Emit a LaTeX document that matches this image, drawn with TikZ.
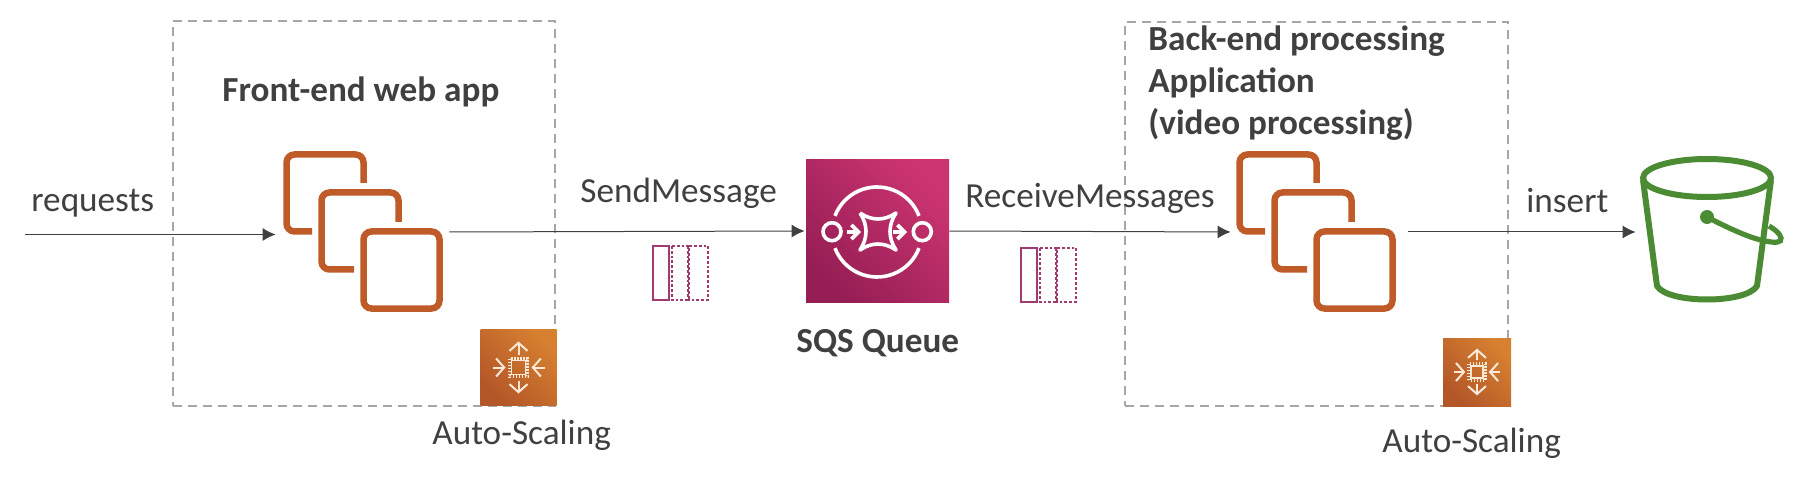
\documentclass[tikz,border=0pt]{standalone}
\usepackage{fontspec}
\setmainfont{Carlito}
\usetikzlibrary{arrows.meta}
\definecolor{txtgray}{HTML}{404040}
\definecolor{boxgray}{HTML}{A6A6A6}
\definecolor{ec2orange}{HTML}{BE5B28}
\definecolor{asgdark}{HTML}{B35628}
\definecolor{asglight}{HTML}{D68030}
\definecolor{sqsdark}{HTML}{951E54}
\definecolor{sqslight}{HTML}{CC3470}
\definecolor{msgpink}{HTML}{A23A72}
\definecolor{s3green}{HTML}{4B8B33}
\definecolor{asgline}{HTML}{FBE9D8}
\tikzset{
	label/.style={anchor=base west,inner sep=0pt,text=txtgray,font=\fontsize{17.6}{21}\selectfont},
	title/.style={anchor=base west,inner sep=0pt,text=txtgray,align=left,font=\fontsize{17.6}{21.2}\selectfont\bfseries},
	group/.style={draw=boxgray,line width=1pt,dash pattern=on 4.5pt off 3pt,minimum height=192.25pt,inner sep=0pt},
	flow/.style={txtgray,line width=.5pt,-{Latex[length=6.5pt,width=6.5pt]}},
	slot/.style={draw=none,inner sep=0pt,minimum size=80pt},
	stackicon/.pic={
		\draw[ec2orange,line width=3.25pt,rounded corners=4pt]
			(0.5,-49)--(0.5,-77.5)--(-76.5,-77.5)--(-76.5,-.5)--(-51,-.5)
			(35.5,-10)--(35.5,-39.5)--(-41.5,-39.5)--(-41.5,37.5)--(-9,37.5)
			(.5,-.5) rectangle (76.5,76.5);
	},
	asgglyph/.pic={
		\draw[asgline,line width=.9pt] (-7,-7) rectangle (7,7);
		\draw[asgline,line width=1.6pt,dash pattern=on .6pt off .9pt] (-9,-9) rectangle (9,9);
		\draw[asgline,line width=1pt,-{Straight Barb[length=4pt,width=9pt]}] (0,-13)--(0,-26);
		\draw[asgline,line width=1pt,-{Straight Barb[length=4pt,width=9pt]}] (0,13)--(0,26);
		\draw[asgline,line width=1pt,-{Straight Barb[length=4pt,width=9pt]}] (-26,0)--(-13,0);
		\draw[asgline,line width=1pt,-{Straight Barb[length=4pt,width=9pt]}] (26,0)--(13,0);
	},
	msgicon/.pic={
		\draw[msgpink,line width=1.4pt] (0,0) rectangle (16,54);
		\draw[msgpink,line width=1.4pt,dash pattern=on 1.4pt off 1pt] (19,0) rectangle (36,54);
		\draw[msgpink,line width=1.4pt,dash pattern=on 1.4pt off 1pt] (35,0) rectangle (55,54);
	}
}
\begin{document}
\begin{tikzpicture}[x=.5pt,y=-.5pt]
	\useasboundingbox (0,0) rectangle (1814,486);
	\path (363.75,213.75) node(frontbox)[group,minimum width=191.25pt]{}
	(1316.5,214) node(backbox)[group,minimum width=191.5pt]{}
	(25,234.5) coordinate(start)
	(363,232) node(front)[slot]{}
	(1316,232) node(back)[slot]{}
	(877.5,231) node(sqs)[inner sep=0pt,minimum size=71.5pt,bottom color=sqsdark,top color=sqslight,shading angle=-45]{}
	(518.5,367.5) node(frontasg)[inner sep=0pt,minimum size=38pt,bottom color=asgdark,top color=asglight,shading angle=-45]{}
	(1477,372) node(backasg)[inner sep=0pt,minimum size=34pt,bottom color=asgdark,top color=asglight,shading angle=-45]{}
	(1707,232) node(bucket)[slot,minimum width=67pt]{};
	\path (front) pic{stackicon};
	\path (back) pic{stackicon};
	\path (frontasg) pic{asgglyph};
	\path (backasg) pic[scale=.9]{asgglyph};
	\path (653,246) pic{msgicon};
	\path (1021,248) pic{msgicon};
	\draw[flow,shorten >=3.5pt](start)--(start-|front.west);
	\draw[flow,shorten <=3pt,shorten >=.5pt](front.east)--(sqs.west);
	\draw[flow,shorten >=2.5pt](sqs.east)--(back.west);
	\draw[flow,shorten <=6pt,shorten >=2pt](back.east)--(bucket.west);
	%sqs glyph
	\draw[white,line width=1.8pt] (832,231.7) circle (9) (922.3,231.7) circle (9);
	\draw[white,line width=1.8pt] (877,232) ++(201:45) arc (201:339:45);
	\draw[white,line width=1.8pt] (877,232) ++(159:45) arc (159:21:45);
	\draw[white,line width=1.8pt,line join=round] (860,213) .. controls (872,221) and (884,221) .. (896,213)
	.. controls (888,225) and (888,238) .. (896,250) .. controls (884,242) and (872,242) .. (860,250)
	.. controls (868,238) and (868,225) .. (860,213);
	\draw[white,line width=1.8pt,-{Straight Barb[length=3.5pt,width=7pt]}] (847,232)--(861,232);
	\draw[white,line width=1.8pt,-{Straight Barb[length=3.5pt,width=7pt]}] (893,232)--(907,232);
	%bucket glyph
	\draw[s3green,line width=3pt,line join=round] (1707,178) ellipse (64 and 19);
	\draw[s3green,line width=3pt,line join=round] (1643,180)--(1657,286) .. controls (1668,304) and (1746,304) .. (1757,286)--(1771,180);
	\fill[s3green] (1707,217) circle (7);
	\draw[s3green,line width=2.6pt] (1707,217) .. controls (1730,229) and (1750,238) .. (1765,241)
	.. controls (1775,243) and (1782,243) .. (1781,238) .. controls (1780,233) and (1774,229) .. (1769,226);
	%texts
	\path (31,212) node(requests)[label]{requests}
	(580,203) node(send)[label]{SendMessage}
	(965,208) node(receive)[label]{ReceiveMessages}
	(1526,213) node(insert)[label]{insert}
	(432,444) node(frontscale)[label]{Auto-Scaling}
	(1382,452) node(backscale)[label]{Auto-Scaling}
	(222,102) node(fronttitle)[title]{Front-end web app}
	(796,352) node(sqstitle)[title]{SQS Queue}
	(1148,50) node(backtitle)[title,anchor=north west,yshift=12.5pt]{Back-end processing\\Application\\(video processing)};
\end{tikzpicture}
\end{document}
